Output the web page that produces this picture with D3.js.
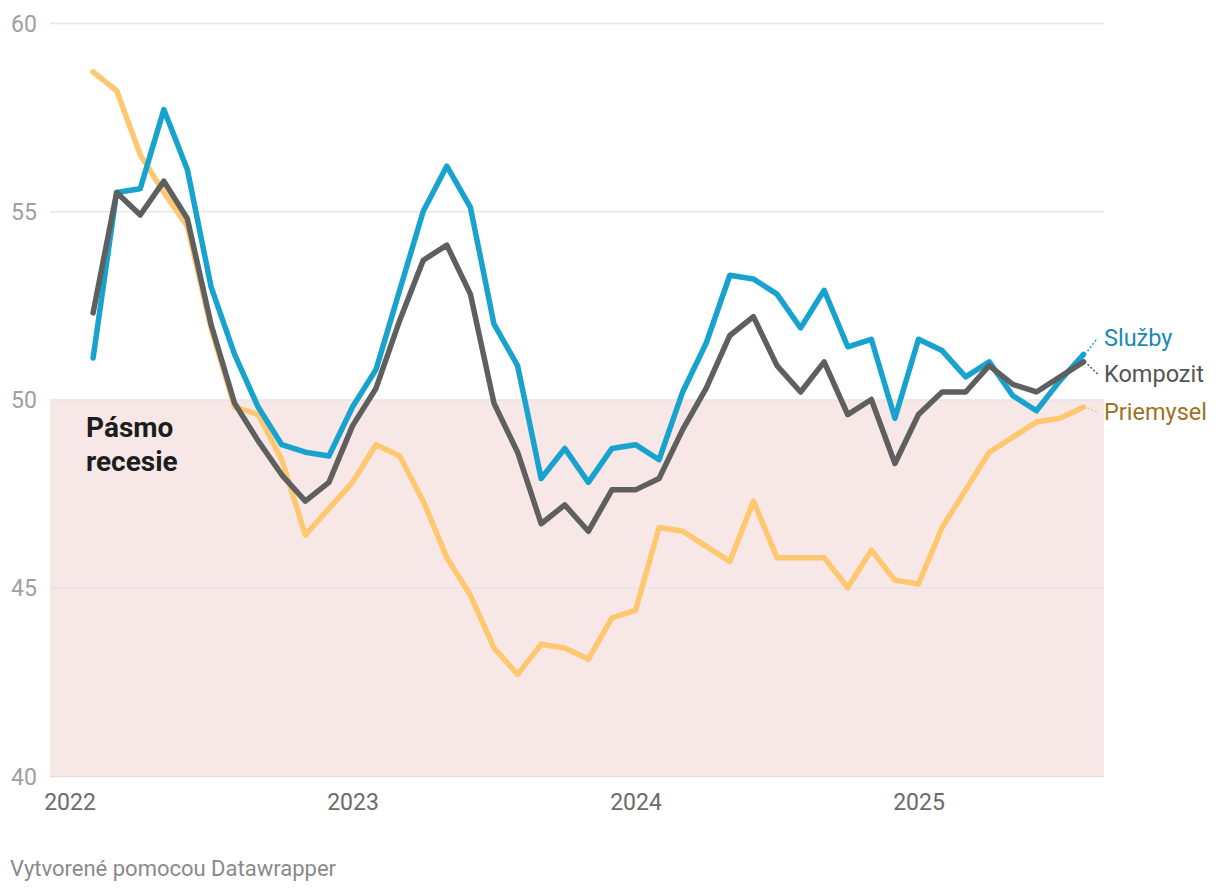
<!DOCTYPE html>
<html>
<head>
<meta charset="utf-8">
<script src="https://cdn.jsdelivr.net/npm/d3@7"></script>
<style>
  html, body { margin: 0; padding: 0; background: #fff; }
  svg { display: block; font-family: Roboto, "Noto Sans", sans-serif; }
</style>
</head>
<body>
<svg id="chart" width="1220" height="892"></svg>
<script>
const months = [
  "2022-02","2022-03","2022-04","2022-05","2022-06","2022-07","2022-08","2022-09","2022-10","2022-11","2022-12",
  "2023-01","2023-02","2023-03","2023-04","2023-05","2023-06","2023-07","2023-08","2023-09","2023-10","2023-11","2023-12",
  "2024-01","2024-02","2024-03","2024-04","2024-05","2024-06","2024-07","2024-08","2024-09","2024-10","2024-11","2024-12",
  "2025-01","2025-02","2025-03","2025-04","2025-05","2025-06","2025-07","2025-08"
];
const sluzby = [51.1,55.5,55.6,57.7,56.1,53.0,51.2,49.8,48.8,48.6,48.5,
  49.8,50.8,52.9,55.0,56.2,55.1,52.0,50.9,47.9,48.7,47.8,48.7,
  48.8,48.4,50.2,51.5,53.3,53.2,52.8,51.9,52.9,51.4,51.6,49.5,
  51.6,51.3,50.6,51.0,50.1,49.7,50.5,51.2];
const kompozit = [52.3,55.5,54.9,55.8,54.8,52.0,49.9,48.9,48.0,47.3,47.8,
  49.3,50.3,52.1,53.7,54.1,52.8,49.9,48.6,46.7,47.2,46.5,47.6,
  47.6,47.9,49.2,50.3,51.7,52.2,50.9,50.2,51.0,49.6,50.0,48.3,
  49.6,50.2,50.2,50.9,50.4,50.2,50.6,51.0];
const priemysel = [58.7,58.2,56.5,55.5,54.6,51.9,49.8,49.6,48.4,46.4,47.1,
  47.8,48.8,48.5,47.3,45.8,44.8,43.4,42.7,43.5,43.4,43.1,44.2,
  44.4,46.6,46.5,46.1,45.7,47.3,45.8,45.8,45.8,45.0,46.0,45.2,
  45.1,46.6,47.6,48.6,49.0,49.4,49.5,49.8];
const yTicks = [40, 45, 50, 55, 60];
const xTicks = [2022, 2023, 2024, 2025];
const seriesNames = ["Priemysel", "Služby", "Kompozit"];
const recessionBand = [40, 50];

const svg = d3.select("#chart");
const plotLeft = 50, plotRight = 1104;

const x = d3.scaleLinear().domain([2022, 2025]).range([69.5, 918.5]);
const y = d3.scaleLinear().domain([40, 60]).range([776, 23]);

const toYear = m => { const [yy, mm] = m.split("-").map(Number); return yy + (mm - 1) / 12; };

// recession band
svg.append("rect")
  .attr("x", plotLeft).attr("width", plotRight - plotLeft)
  .attr("y", y(recessionBand[1])).attr("height", y(recessionBand[0]) - y(recessionBand[1]))
  .attr("fill", "#f7e7e7");

// grid
const yAxis = d3.axisLeft(y).tickValues(yTicks).tickSize(-(plotRight - plotLeft)).tickFormat(d3.format("d"));
const gy = svg.append("g").attr("transform", `translate(${plotLeft},0)`).call(yAxis);
gy.select(".domain").remove();
gy.selectAll(".tick line").attr("stroke", d => d === 40 ? "#e2dede" : "#e6e6e6").attr("stroke-width", 1.3);
gy.selectAll(".tick text")
  .attr("x", -39).attr("text-anchor", "start").attr("dy", "0.35em")
  .attr("fill", "#a0a0a0").style("font-size", "23px").style("font-family", "Roboto");

// x axis
const xAxis = d3.axisBottom(x).tickValues(xTicks).tickSize(0).tickFormat(d3.format("d"));
const gx = svg.append("g").attr("transform", `translate(0,${y(40)})`).call(xAxis);
gx.select(".domain").remove();
gx.selectAll(".tick text")
  .attr("y", 34).attr("dy", 0)
  .attr("fill", "#6b6b6b").style("font-size", "23px").style("font-family", "Roboto");

// Pásmo recesie label
const band = svg.append("text").attr("x", 86).attr("y", 437)
  .attr("fill", "#1d1d1d").style("font-size", "28px").style("font-weight", "700");
band.append("tspan").attr("x", 86).attr("dy", 0).text("Pásmo");
band.append("tspan").attr("x", 86).attr("dy", 34).text("recesie");

// lines
const line = d3.line().x((d, i) => x(toYear(months[i]))).y(d => y(d));
const series = [
  { name: seriesNames[0], values: priemysel, color: "#ffc870", label: "#a0721e" },
  { name: seriesNames[1], values: sluzby, color: "#18a3cf", label: "#1a8ab3" },
  { name: seriesNames[2], values: kompozit, color: "#5f5f5f", label: "#555555" }
];
series.forEach(s => {
  svg.append("path").datum(s.values)
    .attr("d", line).attr("fill", "none")
    .attr("stroke", s.color).attr("stroke-width", 5.5)
    .attr("stroke-linejoin", "round").attr("stroke-linecap", "round");
});

// end labels with connectors
const lastX = x(toYear(months[months.length - 1]));
const labelPos = { "Služby": 338, "Kompozit": 374, "Priemysel": 412 };
series.forEach(s => {
  const ly = labelPos[s.name];
  const vy = y(s.values[s.values.length - 1]);
  svg.append("line")
    .attr("x1", lastX + 4).attr("y1", vy + (ly - vy) * 0.2)
    .attr("x2", lastX + 14).attr("y2", ly)
    .attr("stroke", s.color)
    .attr("stroke-width", 1.6).attr("stroke-dasharray", "2,2");
  svg.append("text").attr("x", 1104).attr("y", ly).attr("dy", "0.35em")
    .attr("fill", s.label).style("font-size", "23.5px").text(s.name);
});

// footer
svg.append("text").attr("x", 10).attr("y", 876)
  .attr("fill", "#8a8a8a").style("font-size", "22px").text("Vytvorené pomocou Datawrapper");
</script>
</body>
</html>
